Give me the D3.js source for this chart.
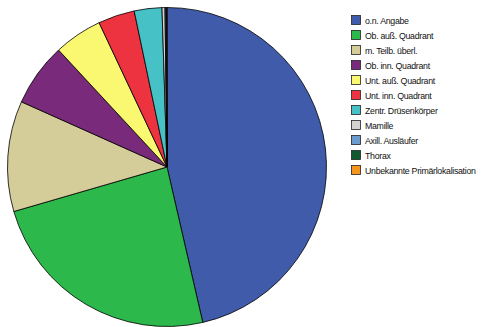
<!DOCTYPE html>
<html>
<head>
<meta charset="utf-8">
<script src="https://cdn.jsdelivr.net/npm/d3@7"></script>
<style>
  body { margin: 0; background: #fff; }
  svg { display: block; }
</style>
</head>
<body>
<div class="chart"></div>
<script>
var width = 484;
var height = 327;

var categories = [
  "o.n. Angabe",
  "Ob. auß. Quadrant",
  "m. Teilb. überl.",
  "Ob. inn. Quadrant",
  "Unt. auß. Quadrant",
  "Unt. inn. Quadrant",
  "Zentr. Drüsenkörper",
  "Mamille",
  "Axill. Ausläufer",
  "Thorax",
  "Unbekannte Primärlokalisation"
];
var shares = [46.4, 24.1, 11.2, 6.4, 4.9, 3.7, 2.8, 0.3, 0.1, 0.05, 0.05];
var colors = [
  "#3f5ba9", "#2db84b", "#d5cd99", "#7a2a7a", "#faf870", "#ee3340",
  "#46c1c6", "#d3d3d3", "#6c9bcf", "#0f5a30", "#f7941d"
];

var data = categories.map(function (c, i) {
  return { key: c, value: shares[i] };
});

var svg = d3
  .select(".chart")
  .append("svg")
  .attr("width", width)
  .attr("height", height);

var cx = 167, cy = 167, radius = 159.5;

// clockwise from 12 o'clock, in the given order
var pie = d3.pie().sort(null).value(function (d) { return d.value; });
var arc = d3.arc().innerRadius(0).outerRadius(radius);

svg.append("g")
  .attr("transform", "translate(" + cx + "," + cy + ")")
  .selectAll("path")
  .data(pie(data))
  .enter()
  .append("path")
  .attr("d", arc)
  .style("fill", function (_, i) { return colors[i]; })
  .attr("stroke", "#000")
  .style("stroke-width", 0.8)
  .style("stroke-linejoin", "round");

var legend = svg.append("g")
  .attr("transform", "translate(351,15)")
  .selectAll("g")
  .data(data)
  .enter()
  .append("g")
  .attr("transform", function (_, i) { return "translate(0," + i * 15 + ")"; });

legend.append("rect")
  .attr("x", 0.5)
  .attr("y", 0.5)
  .attr("width", 9)
  .attr("height", 9)
  .style("fill", function (_, i) { return colors[i]; })
  .attr("stroke", "#222")
  .style("stroke-width", 0.8);

legend.append("text")
  .attr("x", 14)
  .attr("y", 8.5)
  .style("font-family", "'Liberation Sans', Arial, sans-serif")
  .style("font-size", "8.8px")
  .style("letter-spacing", "-0.3px")
  .style("fill", "#111")
  .text(function (d) { return d.key; });
</script>
</body>
</html>
